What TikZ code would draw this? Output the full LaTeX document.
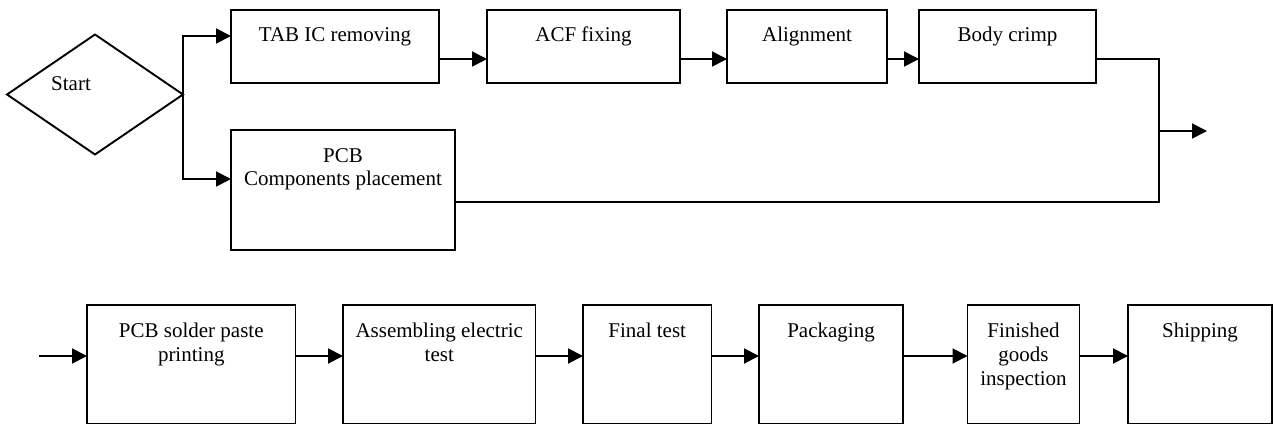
\documentclass[tikz,border=0pt]{standalone}
\usepackage{fontspec}
\setmainfont{Liberation Serif}
\usetikzlibrary{shapes.geometric,arrows.meta}

% several centred lines whose first baseline is the node's base
\newcommand\stacked[1]{\begin{tabular}[t]{@{}c@{}}#1\end{tabular}}

\tikzset{
  every node/.style={inner sep=0pt, outer sep=0pt},
  stepbox/.style={draw, line width=1.9pt, rectangle},
  upper/.style={stepbox, minimum height=73pt},
  lower/.style={stepbox, minimum height=118.5pt},
  txt/.style={anchor=base, font=\fontsize{21}{24}\selectfont},
  wire/.style={line width=1.9pt},
  flow/.style={wire, -{Triangle[length=15pt,width=15pt]}}
}

\begin{document}
\begin{tikzpicture}[x=1pt,y=-1pt]

\useasboundingbox (0,0) rectangle (1274,425);

% ---- upper branch: start and the two parallel lines
\node[diamond, draw, line width=1.9pt, minimum width=176pt,
      minimum height=120pt] (start) at (95,94.5) {};
\node[txt] (starttxt) at (71,91) {Start};

\node[upper, minimum width=208pt] (tab)   at (335,46.5)    {};
\node[upper, minimum width=193pt] (acf)   at (583.5,46.5)  {};
\node[upper, minimum width=160pt] (align) at (807,46.5)    {};
\node[upper, minimum width=177pt] (body)  at (1007.5,46.5) {};
\node[stepbox, minimum width=224pt, minimum height=120pt] (pcb) at (343,190) {};

\node[txt] (tabtxt)   at ([yshift=-32pt]tab.north)   {TAB IC removing};
\node[txt] (acftxt)   at ([yshift=-32pt]acf.north)   {ACF fixing};
\node[txt] (aligntxt) at ([yshift=-32pt]align.north) {Alignment};
\node[txt] (bodytxt)  at ([yshift=-32pt]body.north)  {Body crimp};
\node[txt] (pcbtxt)   at ([yshift=-32pt]pcb.north)   {\stacked{PCB\\Components placement}};

% ---- lower line
\node[lower, minimum width=208.5pt] (paste)   at (191.25,364.25) {};
\node[lower, minimum width=192.5pt] (etest)   at (439.25,364.25) {};
\node[lower, minimum width=128.5pt] (final)   at (647.25,364.25) {};
\node[lower, minimum width=144pt]   (pack)    at (831,364.25)    {};
\node[lower, minimum width=112pt]   (inspect) at (1023.5,364.25) {};
\node[lower, minimum width=144pt]   (ship)    at (1200,364.25)   {};

\node[txt] (pastetxt)   at ([yshift=-32pt]paste.north)   {\stacked{PCB solder paste\\printing}};
\node[txt] (etesttxt)   at ([yshift=-32pt]etest.north)   {\stacked{Assembling electric\\test}};
\node[txt] (finaltxt)   at ([yshift=-32pt]final.north)   {Final test};
\node[txt] (packtxt)    at ([yshift=-32pt]pack.north)    {Packaging};
\node[txt] (inspecttxt) at ([yshift=-32pt]inspect.north) {\stacked{Finished\\goods\\inspection}};
\node[txt] (shiptxt)    at ([yshift=-32pt]ship.north)    {Shipping};

% ---- routing points
\coordinate (forka) at (183,36);
\coordinate (forkb) at (183,179);
\coordinate (rowa)  at (0,59);
\coordinate (merge) at (1159,131);
\coordinate (outend) at (1207,131);
\coordinate (lowy)  at (0,202);
\coordinate (rowb)  at (0,356);
\coordinate (inlet) at (39,356);

% ---- connectors
\draw[flow] (start.east) |- (tab.west |- forka);
\draw[flow] (start.east) |- (pcb.west |- forkb);
\draw[flow] (tab.east |- rowa) -- (acf.west |- rowa);
\draw[flow] (acf.east |- rowa) -- (align.west |- rowa);
\draw[flow] (align.east |- rowa) -- (body.west |- rowa);
\draw[wire] (body.east |- rowa) -| (merge |- lowy) -- (pcb.east |- lowy);
\draw[flow] (merge) -- (outend);

\draw[flow] (inlet) -- (paste.west |- rowb);
\draw[flow] (paste.east |- rowb) -- (etest.west |- rowb);
\draw[flow] (etest.east |- rowb) -- (final.west |- rowb);
\draw[flow] (final.east |- rowb) -- (pack.west |- rowb);
\draw[flow] (pack.east |- rowb) -- (inspect.west |- rowb);
\draw[flow] (inspect.east |- rowb) -- (ship.west |- rowb);
\end{tikzpicture}
\end{document}
